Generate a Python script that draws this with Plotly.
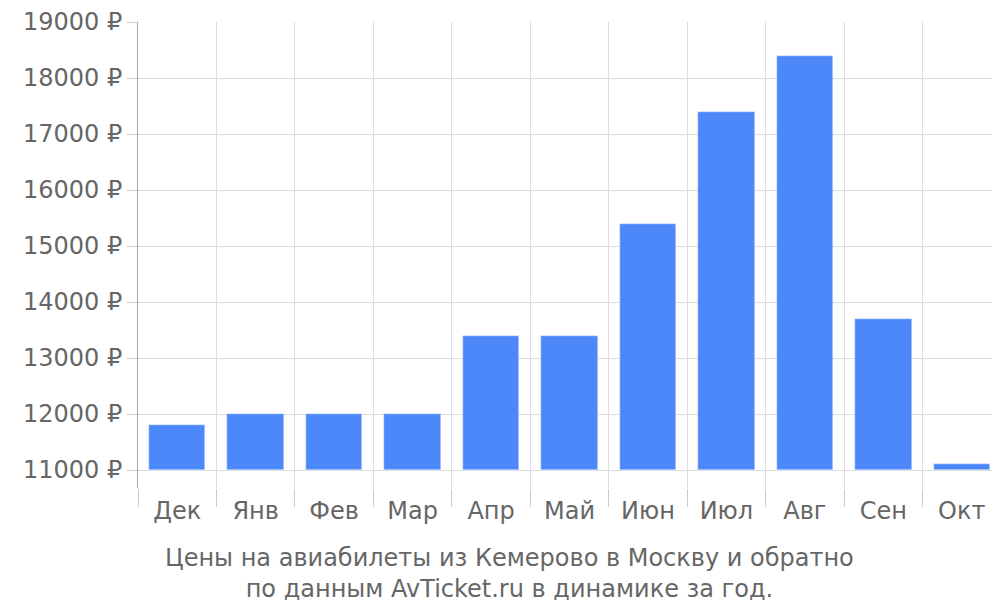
import plotly.graph_objects as go

months = ["Дек","Янв","Фев","Мар","Апр","Май","Июн","Июл","Авг","Сен","Окт"]
prices = [11800, 12000, 12000, 12000, 13400, 13400, 15400, 17400, 18400, 13700, 11100]
base_price = 11000
y_ticks = list(range(11000, 20000, 1000))

xs = list(range(len(months)))
fig = go.Figure()
fig.add_trace(go.Bar(x=xs, y=[p - base_price for p in prices], base=base_price,
                     marker_color="#4d88fb", width=0.72, showlegend=False,
                     customdata=prices, hovertemplate="%{customdata} ₽<extra></extra>"))
fig.add_trace(go.Scatter(x=[-0.5, 10.5], y=[None, None], xaxis="x2", showlegend=False))

font = dict(family="DejaVu Sans", size=24, color="#666666")
fig.update_layout(
    width=1000, height=600, margin=dict(l=130, r=7, t=14, b=120, autoexpand=False),
    plot_bgcolor="white", paper_bgcolor="white", font=font,
    xaxis=dict(range=[-0.5, 10.5], tickvals=xs, ticktext=months, showgrid=False,
               ticks="", zeroline=False, tickfont=font, ticklabelstandoff=6, automargin=False),
    xaxis2=dict(range=[-0.5, 10.5], overlaying="x", side="bottom",
                tickvals=[i - 0.5 for i in range(len(months) + 1)],
                showticklabels=False, showgrid=True, gridcolor="#dddddd",
                ticks="outside", ticklen=18, tickcolor="#cccccc", zeroline=False, automargin=False),
    yaxis=dict(range=[10680, 19000], tickvals=y_ticks,
               ticktext=[f"{v} ₽" for v in y_ticks], gridcolor="#dddddd",
               ticks="outside", ticklen=10, tickcolor="#cccccc", showline=True,
               linecolor="#aaaaaa", zeroline=False, tickfont=font, automargin=False),
    bargap=0,
    annotations=[dict(text="Цены на авиабилеты из Кемерово в Москву и обратно<br>по данным AvTicket.ru в динамике за год.",
                      xref="paper", yref="paper", x=0.43, y=-0.115, yanchor="top",
                      showarrow=False, font=font)],
)
fig.write_html("out.html")
